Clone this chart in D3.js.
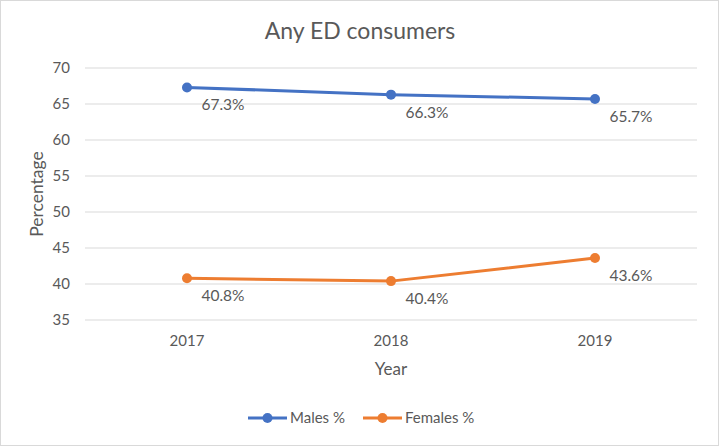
<!DOCTYPE html>
<html><head><meta charset="utf-8">
<script src="https://cdn.jsdelivr.net/npm/d3@7"></script>
<style>
html,body{margin:0;padding:0;background:#fff;}
svg{display:block;font-family:Lato, "Open Sans", sans-serif;}
</style></head>
<body>
<svg id="chart" width="719" height="446"></svg>
<script>
const years = ["2017", "2018", "2019"];
const malesPct = [67.3, 66.3, 65.7];
const femalesPct = [40.8, 40.4, 43.6];
const yTicks = [35, 40, 45, 50, 55, 60, 65, 70];
const seriesNames = ["Males %", "Females %"];
const seriesColors = ["#4472C4", "#ED7D31"];

(function(){
const svg = d3.select("#chart");
const W = 719, H = 446;
svg.append("rect").attr("x",0.5).attr("y",0.5).attr("width",W-1).attr("height",H-1)
  .attr("fill","#fff").attr("stroke","#d9d9d9");

const pL = 85, pR = 697, pT = 68, pB = 320;
const x = d3.scaleBand().domain(years).range([pL, pR]);
const y = d3.scaleLinear().domain([35, 70]).range([pB, pT]);
const cx = d => x(d) + x.bandwidth()/2;
const textColor = "#595959";
const ff = "Lato, 'Open Sans', sans-serif";

svg.append("text").attr("x", 360).attr("y", 39).attr("text-anchor","middle")
  .attr("font-size", 23).attr("fill", textColor).text("Any ED consumers");

svg.append("g").selectAll("line").data(yTicks).join("line")
  .attr("x1", pL).attr("x2", pR)
  .attr("y1", d => y(d)).attr("y2", d => y(d))
  .attr("stroke", "#d9d9d9").attr("stroke-width", 1);

const yAxis = d3.axisLeft(y).tickValues(yTicks).tickSize(0).tickPadding(15);
const gy = svg.append("g").attr("transform", `translate(${pL},0)`).call(yAxis);
gy.select(".domain").remove();
gy.selectAll("text").attr("font-size", 15).attr("fill", textColor).attr("font-family", ff);

const xAxis = d3.axisBottom(x).tickSize(0).tickPadding(15);
const gx = svg.append("g").attr("transform", `translate(0,${pB})`).call(xAxis);
gx.select(".domain").remove();
gx.selectAll("text").attr("font-size", 15).attr("fill", textColor).attr("font-family", ff);

svg.append("text").attr("x", (pL+pR)/2).attr("y", 375).attr("text-anchor","middle")
  .attr("font-size", 17).attr("fill", textColor).text("Year");
svg.append("text").attr("transform", `translate(43,${(pT+pB)/2}) rotate(-90)`)
  .attr("text-anchor","middle").attr("font-size", 17.5).attr("fill", textColor).text("Percentage");

const series = [malesPct, femalesPct];
const line = d3.line().x((d,i) => cx(years[i])).y(d => y(d));
series.forEach((vals, si) => {
  const g = svg.append("g");
  g.append("path").datum(vals).attr("d", line).attr("fill","none")
    .attr("stroke", seriesColors[si]).attr("stroke-width", 3).attr("stroke-linejoin","round");
  g.selectAll("circle").data(vals).join("circle")
    .attr("cx", (d,i) => cx(years[i])).attr("cy", d => y(d)).attr("r", 5)
    .attr("fill", seriesColors[si]);
  g.selectAll("text").data(vals).join("text")
    .attr("x", (d,i) => cx(years[i]) + 36).attr("y", d => y(d) + 23)
    .attr("text-anchor","middle").attr("font-size", 15.5).attr("fill", textColor)
    .text(d => d.toFixed(1) + "%");
});

const legendX = [248, 363];
legendX.forEach((lx, i) => {
  const g = svg.append("g").attr("transform", `translate(${lx},418)`);
  g.append("line").attr("x1",0).attr("x2",39).attr("y1",0).attr("y2",0)
    .attr("stroke", seriesColors[i]).attr("stroke-width",3);
  g.append("circle").attr("cx",19.5).attr("cy",0).attr("r",5).attr("fill",seriesColors[i]);
  g.append("text").attr("x",42).attr("y",5).attr("font-size",15).attr("fill",textColor).text(seriesNames[i]);
});
})();
</script>
</body></html>
